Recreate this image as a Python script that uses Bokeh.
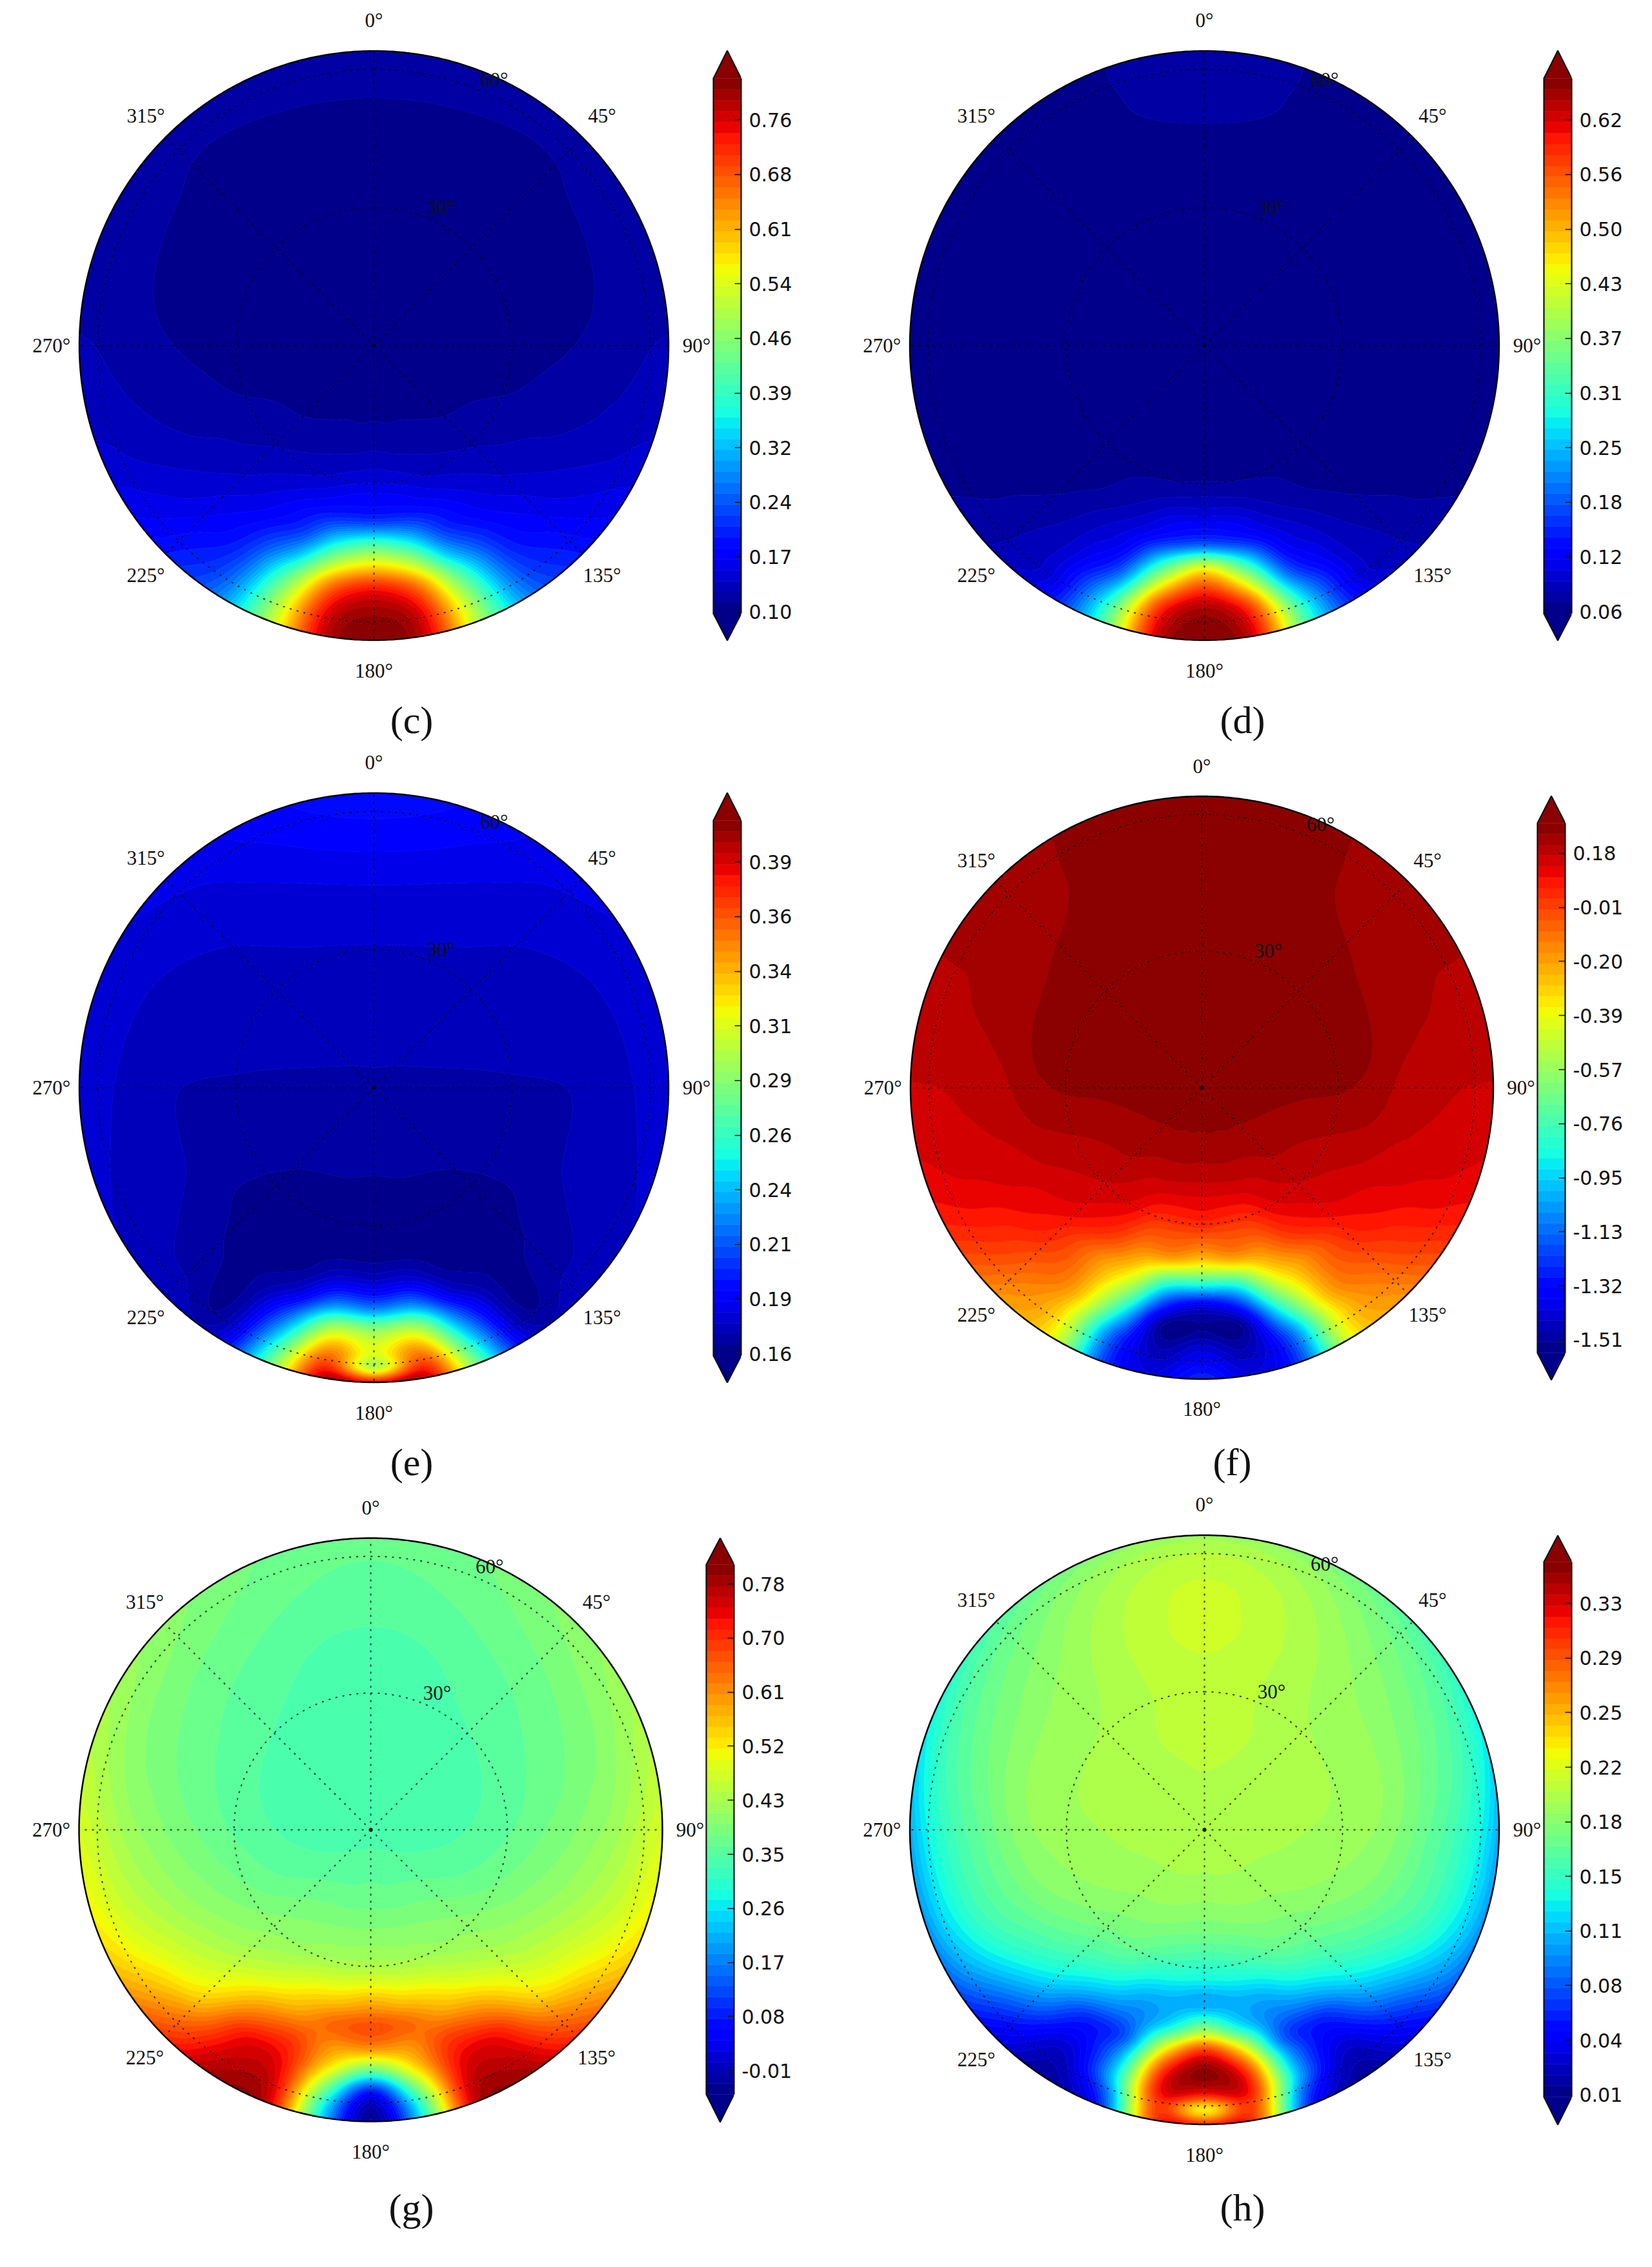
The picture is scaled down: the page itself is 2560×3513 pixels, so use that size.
import numpy as np
from bokeh.plotting import figure
from bokeh.layouts import column, row
from bokeh.models import FixedTicker, ColumnDataSource
from bokeh.core.properties import value
from bokeh.embed import file_html
from bokeh.resources import INLINE

# ---- data ------------------------------------------------------------------
# polar nodes: zenith angle (deg) and azimuth (deg, mirrored for 180-360)
r_nodes = [0, 12.8, 22.4, 32, 38.4, 43.5, 48, 52.5, 57.6, 60.8, 64]
az_nodes = [0, 45, 90, 120, 135, 150, 160, 170, 180]
ring_values = [30, 60]
spoke_angles = [0, 45, 90, 135, 180, 225, 270, 315]

# colour-bar tick labels, bottom to top
c_ticks = ["0.10", "0.17", "0.24", "0.32", "0.39", "0.46", "0.54", "0.61", "0.68", "0.76"]
d_ticks = ["0.06", "0.12", "0.18", "0.25", "0.31", "0.37", "0.43", "0.50", "0.56", "0.62"]
e_ticks = ["0.16", "0.19", "0.21", "0.24", "0.26", "0.29", "0.31", "0.34", "0.36", "0.39"]
f_ticks = ["-1.51", "-1.32", "-1.13", "-0.95", "-0.76", "-0.57", "-0.39", "-0.20", "-0.01", "0.18"]
g_ticks = ["-0.01", "0.08", "0.17", "0.26", "0.35", "0.43", "0.52", "0.61", "0.70", "0.78"]
h_ticks = ["0.01", "0.04", "0.08", "0.11", "0.15", "0.18", "0.22", "0.25", "0.29", "0.33"]

# field read as a position on the colour bar (band number 0-49), row per azimuth
c_bands = [
    [.5, .5, .5, .5, .5, .5, .6, .9, 1.3, 1.45, 1.6],
    [.5, .5, .5, .5, .5, .7, .85, .95, 1.05, 1.25, 1.5],
    [.5, .5, .5, .55, .8, 1.0, 1.2, 1.5, 1.8, 2, 2.1],
    [.5, .5, .9, 1.4, 1.9, 2.2, 2.6, 3.0, 3.5, 3.9, 4.2],
    [.5, .5, 1.05, 2.1, 2.8, 3.6, 4.3, 5, 6, 6.5, 7],
    [.5, .6, 1.4, 2.9, 4.6, 6, 8, 10, 12, 13, 14],
    [.5, .7, 1.6, 3.6, 6.5, 9.5, 15, 22, 27, 28.5, 29],
    [.5, .7, 1.7, 4.6, 8.5, 18, 28, 38, 44, 45.5, 46],
    [.5, .7, 1.9, 5, 9, 22, 33, 43, 47.5, 48.5, 48.9],
]
d_bands = [
    [.4, .4, .4, .4, .4, .5, .98, 1.25, 1.35, 1.4, 1.4],
    [.4, .4, .4, .4, .4, .3, .3, .3, .3, .3, .3],
    [.4, .4, .4, .4, .4, .4, .4, .4, .45, .5, .6],
    [.4, .4, .4, .4, .4, .45, .5, .6, .75, .85, .95],
    [.4, .4, .4, .4, .5, .8, 1.2, 1.6, 1.9, 2.1, 2.4],
    [.4, .4, .4, .9, 1.5, 2.6, 3.5, 4.5, 6, 6.5, 7.5],
    [.4, .4, .4, 1.2, 2.7, 4.6, 7, 11, 18, 21, 21.5],
    [.4, .4, .4, 1.5, 4.5, 8.5, 20, 31, 41.5, 44, 45],
    [.4, .4, .4, 1.7, 5, 11, 30, 41, 47.5, 48.5, 49],
]
e_bands = [
    [1.85, 2.3, 2.7, 3.05, 3.5, 3.95, 4.5, 5.2, 5.9, 6.3, 6.6],
    [1.85, 2.15, 2.45, 2.7, 2.85, 3.0, 3.2, 3.45, 3.8, 4.1, 4.3],
    [1.85, 1.85, 1.85, 1.9, 1.95, 2.05, 2.3, 2.6, 3.1, 3.3, 3.5],
    [1.85, 1.6, 1.4, 1.2, 1.3, 1.75, 2.0, 2.3, 2.6, 2.8, 3.0],
    [1.85, 1.55, 1.1, .8, .7, .9, 1.1, 1.5, 2, 2.4, 2.9],
    [1.85, 1.5, .95, .5, .4, .6, 1.2, 1.9, 3, 4, 5.5],
    [1.85, 1.45, .9, .4, .5, 1.5, 4.5, 11, 18, 22, 25],
    [1.85, 1.4, .85, .4, 1.2, 5, 13, 26, 37, 42, 47],
    [1.85, 1.4, .8, .4, 1.1, 4.5, 12, 25, 30, 27, 44],
]
f_bands = [
    [48.5, 48.5, 48.5, 48.5, 48.6, 49, 49, 49, 49, 49, 49],
    [48.5, 48.5, 48.5, 48.5, 48.3, 48.1, 47.8, 47.6, 47.5, 47.45, 47.4],
    [48.5, 48.4, 48.2, 48.05, 47.6, 46.8, 46.5, 46.3, 46, 45.95, 45.9],
    [48.5, 48.05, 47.2, 46.3, 45.7, 45, 44.6, 44, 43.5, 43, 42.5],
    [48.5, 47.9, 46.9, 45.6, 44.5, 43, 42, 40.5, 39, 38, 37],
    [48.5, 47.8, 46.1, 44, 41, 37, 35.5, 34, 31, 30.5, 30],
    [48.5, 47.7, 45.8, 41.5, 37, 31.5, 25, 18, 11, 9.5, 9],
    [48.5, 47.7, 45.6, 41, 35.5, 20, 9, 1.5, 1.8, 3, 4],
    [48.5, 47.6, 45.5, 41, 33, 18, 4, 1, 4, 6, 8],
]
g_bands = [
    [21.5, 21.5, 21.5, 21.5, 21.6, 21.9, 22.3, 22.6, 22.9, 23.1, 23.2],
    [21.5, 21.5, 21.6, 22.1, 22.6, 23, 23.5, 24, 24.7, 25.1, 25.5],
    [21.5, 21.6, 22.1, 23.1, 24, 24.7, 25.5, 26.3, 27.8, 28.9, 30],
    [21.5, 22.2, 23.2, 24.8, 26, 27.2, 28.5, 30, 32, 33.5, 35],
    [21.5, 22.6, 24.2, 26, 27.5, 29.5, 31.5, 34, 38, 40, 42],
    [21.5, 22.9, 24.8, 27, 30.5, 35, 39.5, 44, 46, 47, 48],
    [21.5, 23, 25, 28, 33, 37, 41, 43, 44, 44.5, 45],
    [21.5, 23.1, 25.1, 28.5, 34.5, 39.5, 37, 33, 24, 19, 17],
    [21.5, 23.2, 25.2, 29, 36, 40.5, 37, 24, 6, 1.5, 0.3],
]
h_bands = [
    [27.5, 28, 28.4, 28.6, 29, 29.3, 29.3, 29.2, 28.5, 27.8, 26.5],
    [27.5, 27.6, 27.6, 27, 26.6, 26.2, 25.7, 25, 24, 23.2, 22],
    [27.5, 27.3, 27, 26.5, 25.8, 24.6, 23.2, 21.8, 19.5, 17.5, 14.5],
    [27.5, 27, 26.3, 25, 23.6, 22, 20.5, 18.5, 15.5, 13.5, 11],
    [27.5, 26.9, 25.6, 23.5, 21, 18.5, 15.5, 12, 8, 6, 4.5],
    [27.5, 26.8, 25.2, 22, 17.5, 12.5, 7.5, 5.5, 3.5, 2.5, 1.5],
    [27.5, 26.7, 24.7, 20, 14.5, 12, 11, 15, 16, 12, 9],
    [27.5, 26.6, 24.2, 19, 14.5, 18, 31, 41, 44, 42, 42],
    [27.5, 26.5, 24, 18.5, 14.5, 26, 42, 48.5, 43, 31, 42],
]

# ---- layout of each panel in page pixels -------------------------------------
N_BANDS = 49
R_DEG = 64.0
PANELS = {
    "c": dict(bands=c_bands, ticks=c_ticks, k0=0, cx=579, cy=535, R=456.5, bar=(1104.5, 1147, 78, 121, 950, 991.5), cap=(637.5, 1115)),
    "d": dict(bands=d_bands, ticks=d_ticks, k0=0, cx=1866, cy=535, R=456.5, bar=(2392, 2435, 78, 121, 950, 991.5), cap=(1925, 1115)),
    "e": dict(bands=e_bands, ticks=e_ticks, k0=0, cx=579, cy=1685, R=456.5, bar=(1104.5, 1147, 1228, 1271, 2100, 2141.5), cap=(637.5, 2265)),
    "f": dict(bands=f_bands, ticks=f_ticks, k0=1, cx=1862, cy=1685, R=451.5, bar=(2382, 2425, 1233, 1275, 2096, 2138), cap=(1909, 2265)),
    "g": dict(bands=g_bands, ticks=g_ticks, k0=2, cx=574, cy=2835, R=452, bar=(1094, 1137, 2383, 2424, 3245, 3288), cap=(637, 3420)),
    "h": dict(bands=h_bands, ticks=h_ticks, k0=0, cx=1866, cy=2835, R=456.5, bar=(2392, 2435, 2379, 2420, 3249, 3292), cap=(1925, 3420)),
}
ROWS = [("c", "d", 0, 1150), ("e", "f", 1150, 1150), ("g", "h", 2300, 1205)]
PAGE_L, COL2 = 0, 1280
BAR_PAD = 3
LABEL_ROOM = 122
LABEL_RX, LABEL_RY = 1.095, 1.103
TICK_SHIFT = 0.2


def jet(f):
    r = np.interp(f, [0, .35, .66, .89, 1], [0, 0, 1, 1, .5])
    g = np.interp(f, [0, .125, .375, .64, .91, 1], [0, 0, 1, 1, 0, 0])
    b = np.interp(f, [0, .11, .34, .65, 1], [.5, 1, 1, 0, 0])
    return "#%02x%02x%02x" % (int(round(r * 255)), int(round(g * 255)), int(round(b * 255)))


BAND_COLORS = [jet((i + .5) / N_BANDS) for i in range(N_BANDS)]
LINE_COLORS = BAND_COLORS + [BAND_COLORS[-1]]


def box(a, w, axis, wrap):
    k = w // 2
    if wrap:
        a2 = np.concatenate([np.take(a, range(-k - 1, -1), axis), a, np.take(a, range(1, k + 1), axis)], axis)
    else:
        n = a.shape[axis]
        idx = np.clip(np.arange(-k, n + k), 0, n - 1)
        a2 = np.take(a, idx, axis)
    kern = np.ones(w) / w
    return np.apply_along_axis(lambda m: np.convolve(m, kern, mode="valid"), axis, a2)


def hermite(xs, ys, xq):
    xs, ys = np.asarray(xs, float), np.asarray(ys, float)
    m = np.gradient(ys, xs)
    i = np.clip(np.searchsorted(xs, xq, side="right") - 1, 0, len(xs) - 2)
    h = xs[i + 1] - xs[i]
    t = (xq - xs[i]) / h
    return ((2 * t**3 - 3 * t**2 + 1) * ys[i] + (t**3 - 2 * t**2 + t) * h * m[i]
            + (-2 * t**3 + 3 * t**2) * ys[i + 1] + (t**3 - t**2) * h * m[i + 1])


def fine_field(table):
    t = np.array(table, float)
    az = list(az_nodes)
    az_full = np.array([-a for a in az[:0:-1]] + az + [360 - a for a in az[-2::-1]] + [360 + a for a in az[1:]], float)
    t_full = np.vstack([t[:0:-1], t, t[-2::-1], t[1:]])
    rr = np.linspace(0, R_DEG, 161)
    aa = np.linspace(0, 360, 361)
    by_r = np.array([hermite(r_nodes, row_, rr) for row_ in t_full])
    z = np.array([hermite(az_full, by_r[:, j], aa) for j in range(len(rr))])  # (nr, na)
    z = box(z, 5, 1, True)
    z = box(z, 3, 0, False)
    return rr, aa, z


def polar_panel(name, x0, y0, w, h, margin_left):
    P = PANELS[name]
    s = P["R"] / R_DEG
    p = figure(width=w, height=h, output_backend="svg", toolbar_location=None,
               x_range=((x0 - P["cx"]) / s, (x0 + w - P["cx"]) / s),
               y_range=((P["cy"] - (y0 + h)) / s, (P["cy"] - y0) / s),
               x_axis_location=None, y_axis_location=None,
               min_border_left=0, min_border_right=0, min_border_top=0, min_border_bottom=0,
               outline_line_color=None, margin=(0, 0, 0, margin_left))
    p.xgrid.visible = False
    p.ygrid.visible = False

    rr, aa, bands = fine_field(P["bands"])
    v0, v1 = float(P["ticks"][0]), float(P["ticks"][-1])
    step = (v1 - v0) / 45.0
    to_val = lambda L: v0 + (np.asarray(L) - P["k0"]) * step
    levels = [float(to_val(i)) for i in range(N_BANDS + 1)]
    z = np.clip(to_val(bands), levels[0] + step * 1e-3, levels[-1] - step * 1e-3)
    th = np.radians(aa)
    X = np.outer(rr, np.sin(th))
    Y = np.outer(rr, np.cos(th))
    p.contour(X, Y, z, levels, fill_color=BAND_COLORS, line_color=LINE_COLORS, line_width=1)

    # grid
    circ = np.radians(np.linspace(0, 360, 721))
    for rv in ring_values:
        p.line(rv * np.sin(circ), rv * np.cos(circ), line_color="black", line_alpha=.75, line_width=2, line_dash="3 8")
    a = np.radians(spoke_angles)
    p.segment(0 * a, 0 * a, R_DEG * np.sin(a), R_DEG * np.cos(a), line_color="black", line_alpha=.75,
              line_width=2, line_dash="3 8")
    p.scatter([0], [0], size=5, color="black")
    p.line(R_DEG * np.sin(circ), R_DEG * np.cos(circ), line_color="black", line_width=2.5)

    # angle labels
    a = np.radians(spoke_angles)
    src = ColumnDataSource(dict(x=LABEL_RX * R_DEG * np.sin(a), y=LABEL_RY * R_DEG * np.cos(a),
                                t=[f"{v}\u00b0" for v in spoke_angles]))
    p.text("x", "y", "t", source=src, text_font=value("Liberation Serif"), text_font_size="31px",
           text_align="center", text_baseline="middle", text_color="#111111")
    src = ColumnDataSource(dict(x=[33.4 * np.sin(np.radians(25.9)), 63.4 * np.sin(np.radians(24.3))],
                                y=[33.4 * np.cos(np.radians(25.9)), 63.4 * np.cos(np.radians(24.3))],
                                t=[f"{v}\u00b0" for v in ring_values]))
    p.text("x", "y", "t", source=src, text_font=value("Liberation Serif"), text_font_size="31px",
           text_align="center", text_baseline="middle", text_color="#111111")

    # caption
    p.text([(P["cap"][0] - P["cx"]) / s], [(P["cy"] - P["cap"][1]) / s], [f"({name})"],
           text_font=value("Liberation Serif"), text_font_size="60px",
           text_align="center", text_baseline="middle", text_color="#111111")
    return p


def bar_panel(name, row_top, total_w):
    P = PANELS[name]
    left, right, tip_top, top, bottom, tip_bot = P["bar"]
    ppb = (bottom - top) / N_BANDS
    pad = BAR_PAD / (right - left)
    frame_w = int(round(right - left + BAR_PAD))
    frame_h = int(round(tip_bot - tip_top + 2 * BAR_PAD))
    tip_u = (top - tip_top) / ppb
    tip_d = (tip_bot - bottom) / ppb
    p = figure(width=frame_w + total_w, height=frame_h, output_backend="svg", toolbar_location=None,
               x_range=(-pad, 1), y_range=(-tip_d - BAR_PAD / ppb, N_BANDS + tip_u + BAR_PAD / ppb),
               x_axis_location=None, y_axis_location="right",
               min_border_left=0, min_border_right=total_w, min_border_top=0, min_border_bottom=0,
               outline_line_color=None, margin=(int(round(tip_top - BAR_PAD - row_top)), 0, 0, 0))
    p.xgrid.visible = False
    p.ygrid.visible = False
    i = np.arange(N_BANDS)
    p.quad(left=0, right=1, bottom=i, top=i + 1, fill_color=BAND_COLORS, line_color=BAND_COLORS, line_width=.6)
    p.patch([0, .5, 1], [N_BANDS, N_BANDS + tip_u, N_BANDS], fill_color=BAND_COLORS[-1], line_color=None)
    p.patch([0, .5, 1], [0, -tip_d, 0], fill_color=BAND_COLORS[0], line_color=None)
    p.line([1, .5, 0, 0, .5, 1], [N_BANDS, N_BANDS + tip_u, N_BANDS, 0, -tip_d, 0], line_color="#111111", line_width=2.2)
    ax = p.yaxis[0]
    locs = [round(P["k0"] + 5 * k + TICK_SHIFT, 2) for k in range(len(P["ticks"]))]
    ax.ticker = FixedTicker(ticks=locs)
    ax.major_label_overrides = {k: t for k, t in zip(locs, P["ticks"])}
    ax.major_tick_in = 10
    ax.major_tick_out = 0
    ax.minor_tick_in = 0
    ax.minor_tick_out = 0
    ax.major_tick_line_color = "#111111"
    ax.major_tick_line_width = 1.5
    ax.axis_line_color = "#111111"
    ax.axis_line_width = 2.2
    ax.bounds = (0, N_BANDS)
    ax.major_label_standoff = 12
    ax.major_label_text_font = "DejaVu Sans"
    ax.major_label_text_font_size = "30px"
    ax.major_label_text_color = "#111111"
    return p


rows = []
for a, b, y0, h in ROWS:
    A, B = PANELS[a], PANELS[b]
    w_a = int(round(A["bar"][0] - BAR_PAD)) - PAGE_L
    bar_a = bar_panel(a, y0, LABEL_ROOM)
    used = PAGE_L + w_a + bar_a.width
    ml = COL2 - used
    w_b = int(round(B["bar"][0] - BAR_PAD)) - COL2
    poly_a = polar_panel(a, PAGE_L, y0, w_a, h, 0)
    poly_b = polar_panel(b, COL2, y0, w_b, h, ml)
    bar_b = bar_panel(b, y0, LABEL_ROOM)
    rows.append(row(poly_a, bar_a, poly_b, bar_b))

page = column(*rows)
open("out.html", "w").write(file_html(page, INLINE))
